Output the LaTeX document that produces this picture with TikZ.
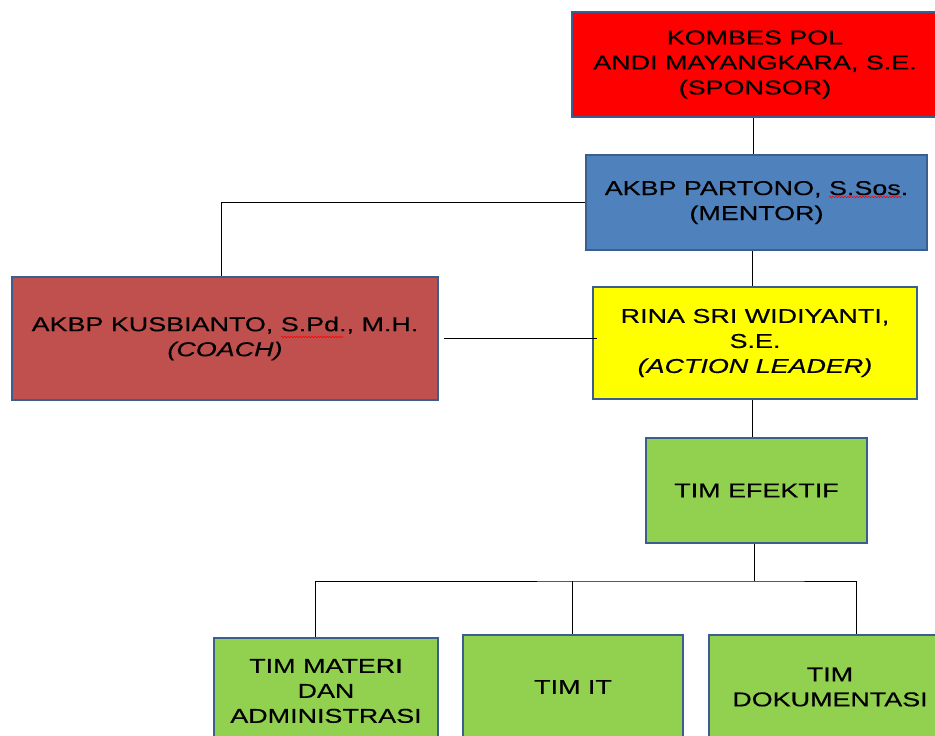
\documentclass[tikz,border=0pt]{standalone}
\usepackage{fontspec}
\setmainfont{Liberation Sans}[FakeStretch=1.345,FakeBold=0.35]
\usetikzlibrary{decorations.pathmorphing}
\definecolor{sponsorred}{HTML}{FF0000}
\definecolor{mentorblue}{HTML}{4F81BD}
\definecolor{coachred}{HTML}{C0504D}
\definecolor{leaderyellow}{HTML}{FFFF00}
\definecolor{teamgreen}{HTML}{92D050}
\definecolor{boxborder}{HTML}{3A5F8E}
\begin{document}
\begin{tikzpicture}[x=1pt,y=-1pt,
  box/.style={draw=boxborder, line width=2.5pt, rectangle, align=center,
    font=\fontsize{20}{25}\selectfont, inner sep=0pt},
  link/.style={draw=black, line width=1pt},
  squiggle/.style={draw=red, line width=0.6pt, decorate,
    decoration={snake, amplitude=0.7pt, segment length=3pt}}]

\useasboundingbox (0,0) rectangle (935,736);
\clip (0,0) rectangle (935,736);
\fill[white] (0,0) rectangle (935,736);

\node[box, fill=sponsorred, minimum width=366pt, minimum height=105pt] (sponsor) at (755,64.5)
  {KOMBES POL\\ANDI MAYANGKARA, S.E.\\(SPONSOR)};
\node[box, fill=mentorblue, minimum width=341pt, minimum height=95pt] (mentor) at (756.5,202.5)
  {\raisebox{4pt}{\begin{tabular}{@{}c@{}}AKBP PARTONO, S.Sos.\\(MENTOR)\end{tabular}}};
\node[box, fill=coachred, minimum width=426pt, minimum height=123pt] (coach) at (225,338.5)
  {AKBP KUSBIANTO, S.Pd., M.H.\\\textit{(COACH)}};
\node[box, fill=leaderyellow, minimum width=324pt, minimum height=112pt] (leader) at (755,343)
  {RINA SRI WIDIYANTI,\\S.E.\\\textit{(ACTION LEADER)}};
\node[box, fill=teamgreen, minimum width=221pt, minimum height=105pt] (efektif) at (756.5,490.5)
  {TIM EFEKTIF};
\node[box, fill=teamgreen, minimum width=224pt, minimum height=106pt] (materi) at (326,691)
  {TIM MATERI\\DAN\\ADMINISTRASI};
\node[box, fill=teamgreen, minimum width=220pt, minimum height=104pt] (it) at (573,687)
  {TIM IT};
\node[box, fill=teamgreen, minimum width=242pt, minimum height=104pt] (dok) at (830,687)
  {TIM\\DOKUMENTASI};

% connectors
\draw[link] ([xshift=-2pt]sponsor.south) -- ([xshift=-2pt]sponsor.south |- mentor.north);
\draw[link] (mentor.west) -| ([xshift=-4pt]coach.north);
\draw[link] ([xshift=5pt]coach.east) -- ([xshift=5pt]coach.east -| leader.west);
\draw[link] ([xshift=-4pt]mentor.south) -- ([xshift=-4pt]mentor.south |- leader.north);
\draw[link] ([xshift=-3pt]leader.south) -- ([xshift=-3pt]leader.south |- efektif.north);
\coordinate (bus) at (754,581);
\draw[link] (bus |- efektif.south) -- (bus);
\draw[link] ([xshift=-11pt]materi.north) |- (bus) -| ([xshift=26pt]dok.north);
\draw[link] ([xshift=-1pt]it.north) -- ([xshift=-1pt]it.north |- bus);

% spell-check squiggles
\draw[squiggle] (829,197) -- (902,197);
\draw[squiggle] (281,337) -- (343,337);
\end{tikzpicture}
\end{document}
